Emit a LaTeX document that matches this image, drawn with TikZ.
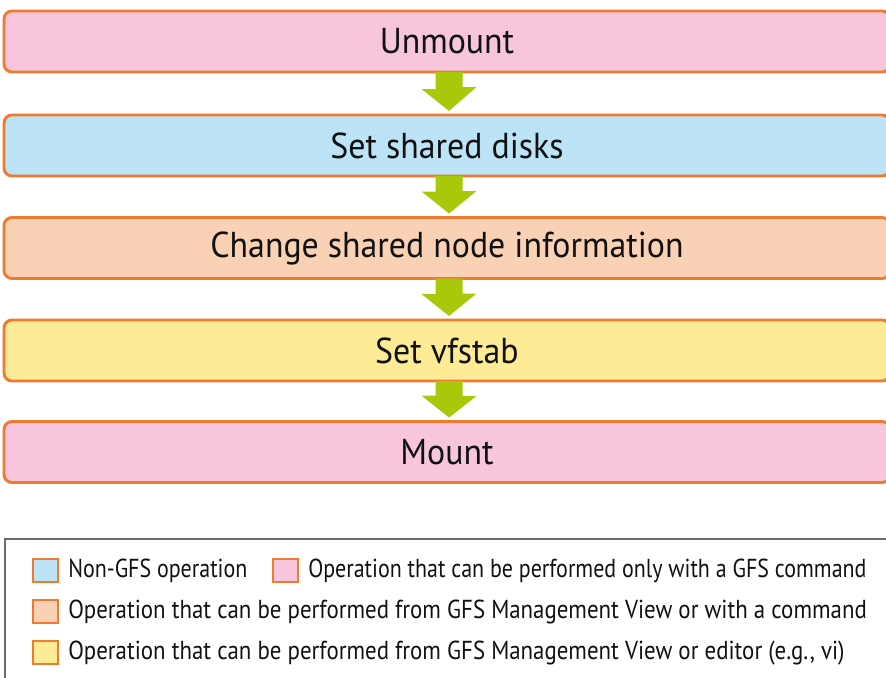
\documentclass[tikz,border=0pt]{standalone}
\usepackage{fontspec}
\usetikzlibrary{calc}
\newfontfamily\mainfnt[FakeStretch=0.94]{PT Sans}
\newfontfamily\legfnt[FakeStretch=0.88]{PT Sans}
\newfontfamily\legfntn[FakeStretch=0.845]{PT Sans}
\definecolor{pinkc}{HTML}{F7C6DC}
\definecolor{bluec}{HTML}{BCE3F6}
\definecolor{peachc}{HTML}{F9D1B4}
\definecolor{yellowc}{HTML}{FDEB95}
\definecolor{borderc}{HTML}{EE7B2E}
\definecolor{arrowc}{HTML}{A8C80A}
\definecolor{legborder}{HTML}{6E6A66}
\definecolor{txtc}{HTML}{111111}
\tikzset{
  stepbox/.style={draw=borderc, line width=2.2pt, rounded corners=6pt,
    minimum width=886*0.75pt, minimum height=61*0.75pt, outer sep=0pt,
    inner sep=0pt, font=\mainfnt\fontsize{27pt}{30pt}\selectfont, text=txtc},
  legsq/.style={draw=borderc, line width=1.5pt, minimum width=25*0.75pt,
    minimum height=23*0.75pt, inner sep=0pt, outer sep=0pt},
  legtxt/.style={anchor=west, inner sep=0pt, font=\legfnt\fontsize{19.5pt}{22pt}\selectfont, text=txtc},
  legtxtn/.style={legtxt, font=\legfntn\fontsize{19.5pt}{22pt}\selectfont},
  greenarrow/.style={fill=arrowc}
}
\begin{document}
\begin{tikzpicture}[x=0.75pt,y=-0.75pt]
\useasboundingbox (0,0) rectangle (886,678);
\clip (0,0) rectangle (886,678);
\node[stepbox, fill=pinkc]   (b1) at (447,41.5)  {Unmount};
\node[stepbox, fill=bluec]   (b2) at (447,145.5) {Set shared disks};
\node[stepbox, fill=peachc]  (b3) at (447,248)   {Change shared node information};
\node[stepbox, fill=yellowc] (b4) at (447,350.5) {Set vfstab};
\node[stepbox, fill=pinkc]   (b5) at (447,452)   {Mount};
\foreach \a/\b in {b1/b2,b2/b3,b3/b4,b4/b5}{
  \fill[greenarrow] ($(\a.south)+(-11.5,0)$) -- ++(27,0) -- ++(0,15) -- ++(14,0)
     -- ($(\b.north)+(1.5+0.5,-4)$) -- ++(-27.5,-22) -- ++(14,0) -- cycle;
}
\node[draw=legborder, line width=1.4pt, minimum width=900*0.75pt, minimum height=160*0.75pt,
  anchor=north west, inner sep=0pt] (leg) at (4,538) {};
\node[legsq, fill=bluec] (s1) at (45.5,570) {};
\node[legtxtn] (t1) at (68,571) {Non-GFS operation};
\node[legsq, fill=pinkc] (s2) at (285.5,570) {};
\node[legtxtn] (t2) at (308,571) {Operation that can be performed only with a GFS command};
\node[legsq, fill=peachc] (s3) at (45.5,611) {};
\node[legtxt] (t3) at (68,612) {Operation that can be performed from GFS Management View or with a command};
\node[legsq, fill=yellowc] (s4) at (45.5,652) {};
\node[legtxt] (t4) at (68,653) {Operation that can be performed from GFS Management View or editor (e.g., vi)};
\end{tikzpicture}
\end{document}
